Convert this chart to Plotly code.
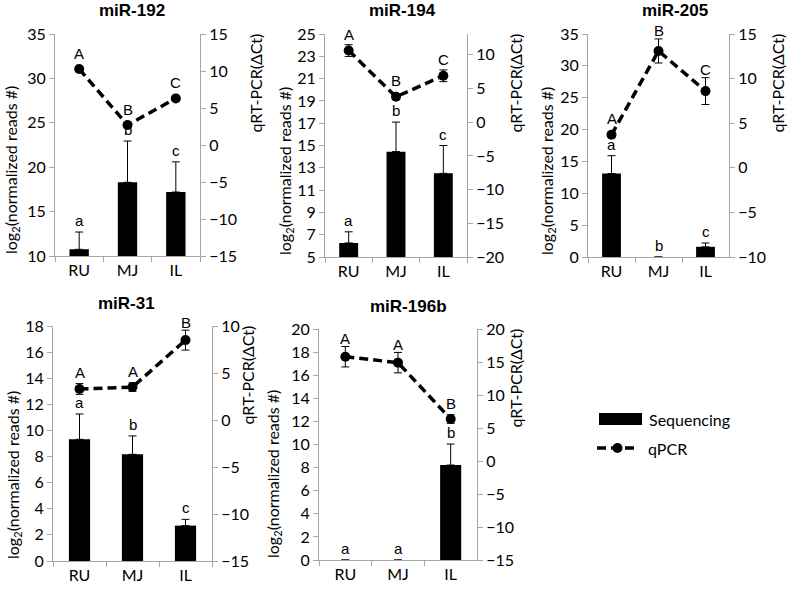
import plotly.graph_objects as go

W, H = 789, 592

categories = ["RU", "MJ", "IL"]
titles = ["miR-192", "miR-194", "miR-205", "miR-31", "miR-196b"]

# Sequencing: log2(normalized reads #), upper error only (None = no error bar)
seq_192 = [10.75, 18.3, 17.2]
seq_192_err = [1.95, 4.65, 3.4]
seq_194 = [6.26, 14.45, 12.5]
seq_194_err = [1.0, 2.65, 2.5]
seq_205 = [13.1, 0.0, 1.6]
seq_205_err = [2.8, None, 0.6]
seq_31 = [9.32, 8.17, 2.71]
seq_31_err = [1.94, 1.41, 0.48]
seq_196b = [0.0, 0.0, 8.22]
seq_196b_err = [None, None, 1.82]

# qPCR: qRT-PCR (delta Ct), symmetric error
qpcr_192 = [10.27, 2.7, 6.3]
qpcr_192_err = [0.25, 0.25, 0.25]
qpcr_194 = [10.64, 3.78, 6.9]
qpcr_194_err = [0.87, 0.4, 0.87]
qpcr_205 = [3.7, 13.1, 8.6]
qpcr_205_err = [0.3, 1.35, 1.5]
qpcr_31 = [3.3, 3.5, 8.5]
qpcr_31_err = [0.57, 0.45, 1.06]
qpcr_196b = [15.8, 14.9, 6.36]
qpcr_196b_err = [1.55, 1.55, 0.65]

seq_letters = [["a", "b", "c"], ["a", "b", "c"], ["a", "b", "c"], ["a", "b", "c"], ["a", "a", "b"]]
qpcr_letters = [["A", "B", "C"], ["A", "B", "C"], ["A", "B", "C"], ["A", "A", "B"], ["A", "A", "B"]]

left_ranges = [[10, 35], [5, 25], [0, 35], [0, 18], [0, 20]]
left_dticks = [5, 2, 5, 2, 2]
right_ranges = [[-15, 15], [-20, 13.1], [-10, 15], [-15, 10], [-15, 20]]
right_dticks = [5, 5, 5, 5, 5]

seq_vals = [seq_192, seq_194, seq_205, seq_31, seq_196b]
seq_errs = [seq_192_err, seq_194_err, seq_205_err, seq_31_err, seq_196b_err]
q_vals = [qpcr_192, qpcr_194, qpcr_205, qpcr_31, qpcr_196b]
q_errs = [qpcr_192_err, qpcr_194_err, qpcr_205_err, qpcr_31_err, qpcr_196b_err]

# plot-area boxes in pixels: left, right, top, bottom
boxes = [(55, 200, 34, 256), (325, 467, 34, 257), (588, 729, 34, 257),
         (53, 212, 326, 561), (319, 477, 329, 560)]
title_x = [132, 402, 675, 126, 408]
left_title_x = [11, 285, 547, 13, 273]
right_title_x = [255, 515, 777, 247, 515]

AX = "#a6a6a6"
TICKFONT = dict(family="Lato", size=16, color="#000000")
LETTERFONT = dict(family="Liberation Sans", size=15, color="#000000")

def px(x):
    return x / W

def py(y):
    return 1 - y / H

fig = go.Figure()
layout = dict(width=W, height=H, margin=dict(l=0, r=0, t=0, b=0, autoexpand=False),
              paper_bgcolor="white", plot_bgcolor="white", showlegend=False)
annotations = []
shapes = []

for i in range(5):
    n = i + 1
    xid = "x" if n == 1 else f"x{n}"
    yl = f"y{2*n-1}" if 2 * n - 1 > 1 else "y"
    yr = f"y{2*n}"
    xkey = "xaxis" if n == 1 else f"xaxis{n}"
    ylkey = "yaxis" if yl == "y" else f"yaxis{2*n-1}"
    yrkey = f"yaxis{2*n}"
    L, R, T, B = boxes[i]

    fig.add_trace(go.Bar(
        x=categories, y=seq_vals[i], width=0.4, marker=dict(color="black", line=dict(width=0)),
        error_y=dict(type="data", symmetric=False, array=seq_errs[i],
                     arrayminus=[0 if e is not None else None for e in seq_errs[i]],
                     color="black", thickness=1, width=4),
        xaxis=xid, yaxis=yl, name="Sequencing", hoverinfo="skip"))
    fig.add_trace(go.Scatter(
        x=categories, y=q_vals[i], mode="lines+markers",
        line=dict(color="black", width=3.5, dash="9px,5px"),
        marker=dict(color="black", size=10),
        error_y=dict(type="data", array=q_errs[i], color="black", thickness=1, width=4),
        xaxis=xid, yaxis=yr, name="qPCR", hoverinfo="skip"))

    layout[xkey] = dict(domain=[px(L), px(R)], anchor=yl, type="category", automargin=False,
                        range=[-0.5, 2.5], showline=True, linecolor=AX, linewidth=1,
                        ticks="outside", tickson="boundaries", ticklen=5, tickcolor=AX,
                        tickfont=TICKFONT, showgrid=False, fixedrange=True)
    layout[ylkey] = dict(domain=[py(B), py(T)], anchor=xid, range=left_ranges[i], automargin=False,
                         tick0=left_ranges[i][0], dtick=left_dticks[i],
                         showline=True, linecolor=AX, ticks="outside", ticklen=5, tickcolor=AX,
                         tickfont=TICKFONT, showgrid=False, zeroline=False)
    layout[yrkey] = dict(overlaying=yl, side="right", anchor=xid, range=right_ranges[i], automargin=False,
                         tick0=right_ranges[i][0], dtick=right_dticks[i],
                         showline=True, linecolor=AX, ticks="outside", ticklen=5, tickcolor=AX,
                         tickfont=TICKFONT, showgrid=False, zeroline=False)

    # panel title
    annotations.append(dict(text=f"<b>{titles[i]}</b>", x=px(title_x[i]), y=py(T - 23),
                            xref="paper", yref="paper", showarrow=False, xanchor="center",
                            yanchor="middle", font=dict(family="Liberation Sans", size=17, color="black")))
    # axis titles
    annotations.append(dict(text="log<sub>2</sub>(normalized reads #)", x=px(left_title_x[i]), y=py(B),
                            xref="paper", yref="paper", showarrow=False, textangle=-90,
                            xanchor="center", yanchor="bottom",
                            font=dict(family="Lato", size=16, color="black")))
    annotations.append(dict(text="qRT-PCR(ΔCt)", x=px(right_title_x[i]), y=py(T - 2),
                            xref="paper", yref="paper", showarrow=False, textangle=-90,
                            xanchor="center", yanchor="top",
                            font=dict(family="Lato", size=16, color="black")))
    # significance letters
    ppu = (B - T) / (right_ranges[i][1] - right_ranges[i][0])  # pixels per qPCR unit
    for j, c in enumerate(categories):
        e = seq_errs[i][j] or 0
        annotations.append(dict(text=seq_letters[i][j], x=c, y=max(seq_vals[i][j], left_ranges[i][0]) + e,
                                xref=xid, yref=yl, showarrow=False, xanchor="center",
                                yanchor="bottom", yshift=1, font=LETTERFONT))
        shift = max(16, q_errs[i][j] * ppu + 8)
        annotations.append(dict(text=qpcr_letters[i][j], x=c, y=q_vals[i][j],
                                xref=xid, yref=yr, showarrow=False, xanchor="center",
                                yanchor="middle", yshift=shift, font=LETTERFONT))

# legend (drawn manually to match the wide bar swatch)
shapes.append(dict(type="rect", xref="paper", yref="paper", x0=px(599), x1=px(642),
                   y0=py(425), y1=py(413), fillcolor="black", line=dict(width=0)))
shapes.append(dict(type="line", xref="paper", yref="paper", x0=px(597), x1=px(638),
                   y0=py(448), y1=py(448), line=dict(color="black", width=3.5, dash="9px,5px")))
shapes.append(dict(type="circle", xref="paper", yref="paper", x0=px(612.5), x1=px(622.5),
                   y0=py(453), y1=py(443), fillcolor="black", line=dict(width=0)))
annotations.append(dict(text="Sequencing", x=px(647), y=py(419), xref="paper", yref="paper",
                        showarrow=False, xanchor="left", yanchor="middle",
                        font=dict(family="Lato", size=16, color="black")))
annotations.append(dict(text="qPCR", x=px(646), y=py(448), xref="paper", yref="paper",
                        showarrow=False, xanchor="left", yanchor="middle",
                        font=dict(family="Lato", size=16, color="black")))

layout["annotations"] = annotations
layout["shapes"] = shapes
fig.update_layout(**layout)
fig.write_html("out.html", config={"displayModeBar": False, "staticPlot": True},
               post_script="document.body.style.margin='0px';")
